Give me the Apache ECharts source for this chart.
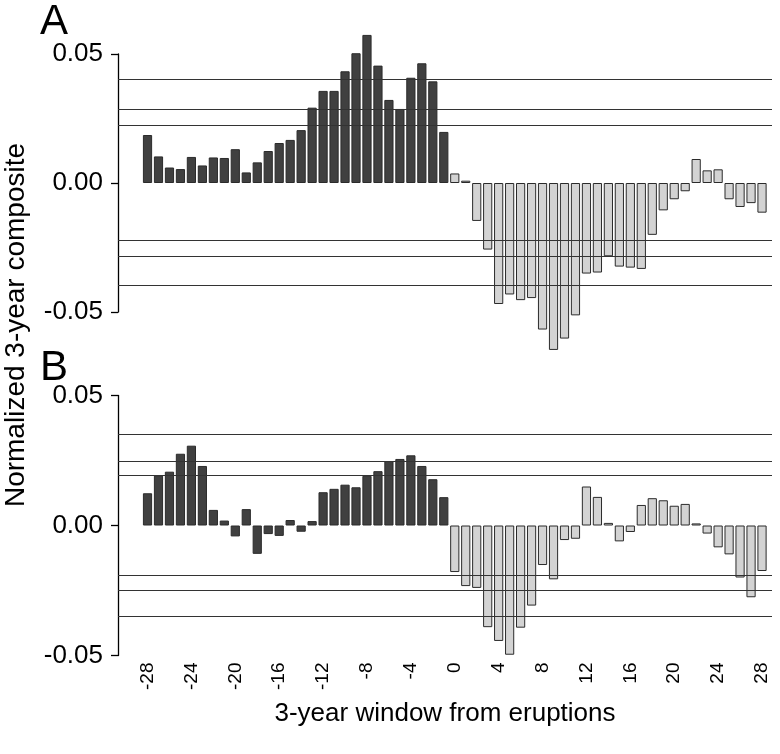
<!DOCTYPE html>
<html>
<head>
<meta charset="utf-8">
<script src="https://cdn.jsdelivr.net/npm/echarts@6/dist/echarts.min.js"></script>
<style>
html,body{margin:0;padding:0;background:#fff;}
#chart{width:780px;height:754px;}
</style>
</head>
<body>
<div id="chart"></div>
<script>
// 3-year windows from eruptions
const windows = [-28,-27,-26,-25,-24,-23,-22,-21,-20,-19,-18,-17,-16,-15,-14,-13,-12,-11,-10,-9,-8,-7,-6,-5,-4,-3,-2,-1,
  0,1,2,3,4,5,6,7,8,9,10,11,12,13,14,15,16,17,18,19,20,21,22,23,24,25,26,27,28];

// Panel A composite
const panelA = [0.0186,0.0103,0.0060,0.0054,0.0101,0.0068,0.0099,0.0097,0.0131,0.0041,0.0080,0.0124,0.0155,0.0167,
  0.0205,0.0292,0.0357,0.0357,0.0433,0.0503,0.0574,0.0455,0.0322,0.0287,0.0408,0.0464,0.0394,0.0198,
  0.0037,0.0009,-0.0147,-0.0258,-0.0469,-0.0432,-0.0454,-0.0446,-0.0568,-0.0647,-0.0603,-0.0513,-0.0351,-0.0347,
  -0.0284,-0.0324,-0.0328,-0.0333,-0.0201,-0.0106,-0.0063,-0.0032,0.0093,0.0049,0.0053,-0.0063,-0.0093,-0.0078,-0.0115];

// Panel B composite
const panelB = [0.0124,0.0192,0.0207,0.0276,0.0307,0.0229,0.0060,0.0019,-0.0042,0.0063,-0.0109,-0.0033,-0.0040,0.0021,
  -0.0024,0.0017,0.0128,0.0141,0.0157,0.0147,0.0191,0.0209,0.0248,0.0256,0.0270,0.0229,0.0178,0.0109,
  -0.0179,-0.0233,-0.0240,-0.0391,-0.0444,-0.0497,-0.0393,-0.0308,-0.0152,-0.0207,-0.0056,-0.0051,0.0150,0.0110,
  0.0010,-0.0061,-0.0025,0.0079,0.0105,0.0097,0.0076,0.0083,0.0008,-0.0031,-0.0084,-0.0111,-0.0200,-0.0276,-0.0175];

// Significance thresholds (horizontal lines)
const thresholdsA = [0.0403,0.0287,0.0225,-0.0222,-0.0284,-0.0395];
const thresholdsB = [0.0350,0.0248,0.0193,-0.0193,-0.0249,-0.0350];

// Tick labels
const xTickLabels = [-28,-24,-20,-16,-12,-8,-4,0,4,8,12,16,20,24,28];
const yTickLabels = [-0.05,0.00,0.05];

const FONT = "'Liberation Sans', Arial, Helvetica, sans-serif";
const DARK = '#404040';
const LIGHT = '#d3d3d3';
const EDGE = '#2b2b2b';

function barData(values){
  return windows.map(function(w,i){
    return {value:[w, values[i]], itemStyle:{color: w < 0 ? DARK : LIGHT}};
  });
}
function lines(th){
  return {
    silent:true, symbol:['none','none'], animation:false, precision:6,
    label:{show:false},
    lineStyle:{color:'#333', width:1, type:'solid'},
    emphasis:{disabled:true},
    data: th.map(function(v){return {yAxis:v};})
  };
}

const xMin = -30.69, xMax = 28.91;

function xAxisDef(idx, showLabels){
  return {
    type:'value', gridIndex:idx, min:xMin, max:xMax,
    axisLine:{show:false, onZero:false}, axisTick:{show:false}, splitLine:{show:false},
    axisLabel:{
      show:showLabels, customValues:xTickLabels, rotate:90, margin:7,
      fontFamily:FONT, fontSize:19, color:'#000'
    },
    name: showLabels ? '3-year window from eruptions' : '',
    nameLocation:'middle', nameGap:45,
    nameTextStyle:{fontFamily:FONT, fontSize:26, color:'#000', verticalAlign:'top'}
  };
}
function yAxisDef(idx){
  return {
    type:'value', gridIndex:idx, min:-0.05, max:0.05, interval:0.05,
    axisLine:{show:true, onZero:false, lineStyle:{color:'#000', width:1.3}},
    axisTick:{show:true, inside:false, length:7, lineStyle:{color:'#000', width:1.3}},
    splitLine:{show:false},
    axisLabel:{
      customValues:yTickLabels, margin:15, fontFamily:FONT, fontSize:26, color:'#000',
      formatter:function(v){return v.toFixed(2);}
    }
  };
}

const chart = echarts.init(document.getElementById('chart'), null, {renderer:'canvas'});
chart.setOption({
  animation:false,
  backgroundColor:'#fff',
  grid:[
    {left:118, right:8, top:54, height:258, outerBoundsMode:'none', containLabel:false},
    {left:118, right:8, top:395.5, height:260, outerBoundsMode:'none', containLabel:false}
  ],
  xAxis:[xAxisDef(0,false), xAxisDef(1,true)],
  yAxis:[yAxisDef(0), yAxisDef(1)],
  series:[
    {type:'bar', xAxisIndex:0, yAxisIndex:0, data:barData(panelA), barWidth:9.2, clip:false,
     itemStyle:{borderColor:EDGE, borderWidth:1}, emphasis:{disabled:true}, markLine:lines(thresholdsA)},
    {type:'bar', xAxisIndex:1, yAxisIndex:1, data:barData(panelB), barWidth:9.2, clip:false,
     itemStyle:{borderColor:EDGE, borderWidth:1}, emphasis:{disabled:true}, markLine:lines(thresholdsB)}
  ],
  graphic:[
    {type:'text', left:40, top:1, style:{text:'A', font:'42px '+FONT, fill:'#000'}},
    {type:'text', left:40, top:347, style:{text:'B', font:'42px '+FONT, fill:'#000'}},
    {type:'text', x:16, y:325, rotation:Math.PI/2,
     style:{text:'Normalized 3-year composite', font:'28px '+FONT, fill:'#000', textAlign:'center', textVerticalAlign:'middle'}}
  ]
});
</script>
</body>
</html>
